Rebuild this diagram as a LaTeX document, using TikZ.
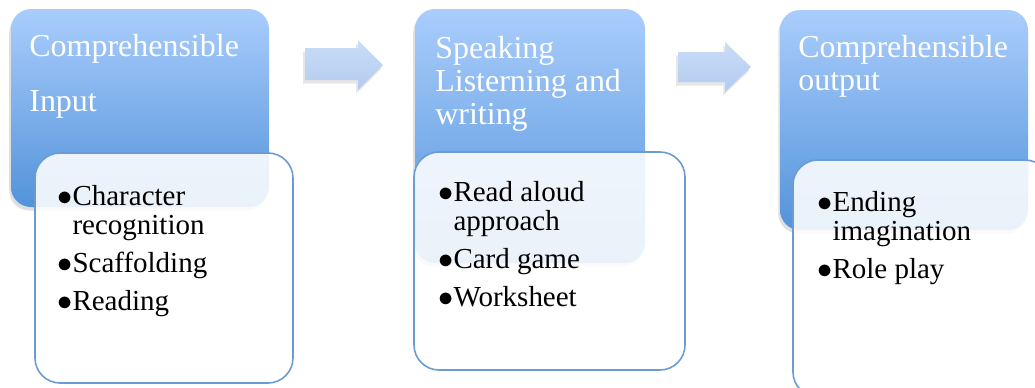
\documentclass[tikz,border=0pt]{standalone}
\usepackage{fontspec}
\setmainfont{Liberation Serif}
\usetikzlibrary{shadows}

\definecolor{boxtop}{HTML}{AACDFC}
\definecolor{boxbot}{HTML}{5393DA}
\definecolor{listline}{HTML}{6B9BD2}
\definecolor{arrowtop}{HTML}{CADDF7}
\definecolor{arrowbot}{HTML}{B2CBF0}

\newcommand{\itembul}{$\bullet$}

\tikzset{
 topbox/.style={rounded corners=0.4cm, top color=boxtop, bottom color=boxbot,
   drop shadow={shadow xshift=-1pt, shadow yshift=-2pt, opacity=0.25}},
 listbox/.style={rounded corners=0.5cm, draw=listline, line width=0.9pt,
   fill=white, fill opacity=0.88},
 arrowbox/.style={top color=arrowtop, bottom color=arrowbot,
   drop shadow={shadow xshift=-1pt, shadow yshift=-2pt, opacity=0.2}},
 headtext/.style={anchor=north west, inner sep=0pt, align=left, text=white},
 itemtext/.style={anchor=north west, inner sep=0pt, align=left,
   font=\fontsize{16.5pt}{16.5pt}\selectfont}
}

\begin{document}
\begin{tikzpicture}[x=0.02cm,y=0.02cm]
 \useasboundingbox (0,0) rectangle (1035,387);
 \clip (0,0) rectangle (1035,387);
 % input
 \path[topbox] (11,180) rectangle (269,378);
 \path[listbox] (35,4) rectangle (293,234);
 \path[arrowbox] (305,339) -- (358,339) -- (358,347) -- (383,322) -- (358,297) -- (358,307) -- (305,307) -- cycle;
 % speaking
 \path[topbox] (415,124) rectangle (645,378);
 \path[listbox] (414,17) rectangle (685,235);
 \path[arrowbox] (678,335) -- (725,335) -- (725,345) -- (751,320) -- (725,295) -- (725,305) -- (678,305) -- cycle;
 % output
 \path[topbox] (780,157) rectangle (1028,377);
 \path[listbox] (793,-10) rectangle (1050,227);

 \node[headtext, font=\fontsize{18.2pt}{31.3pt}\selectfont] (inhead) at (29,353) {Comprehensible\\Input};
 \node[headtext, font=\fontsize{18.2pt}{18.8pt}\selectfont] (sphead) at (435,351) {Speaking\\Listerning and\\writing};
 \node[headtext, font=\fontsize{18.2pt}{18.8pt}\selectfont] (outhead) at (798,352) {Comprehensible\\output};

 \node[itemtext] (initems) at (57,202) {\itembul Character\\\phantom{\itembul}recognition\\[5pt]\itembul Scaffolding\\[5pt]\itembul Reading};
 \node[itemtext] (spitems) at (438,206) {\itembul Read aloud\\\phantom{\itembul}approach\\[5pt]\itembul Card game\\[5pt]\itembul Worksheet};
 \node[itemtext] (outitems) at (817,196) {\itembul Ending\\\phantom{\itembul}imagination\\[5pt]\itembul Role play};
\end{tikzpicture}
\end{document}
